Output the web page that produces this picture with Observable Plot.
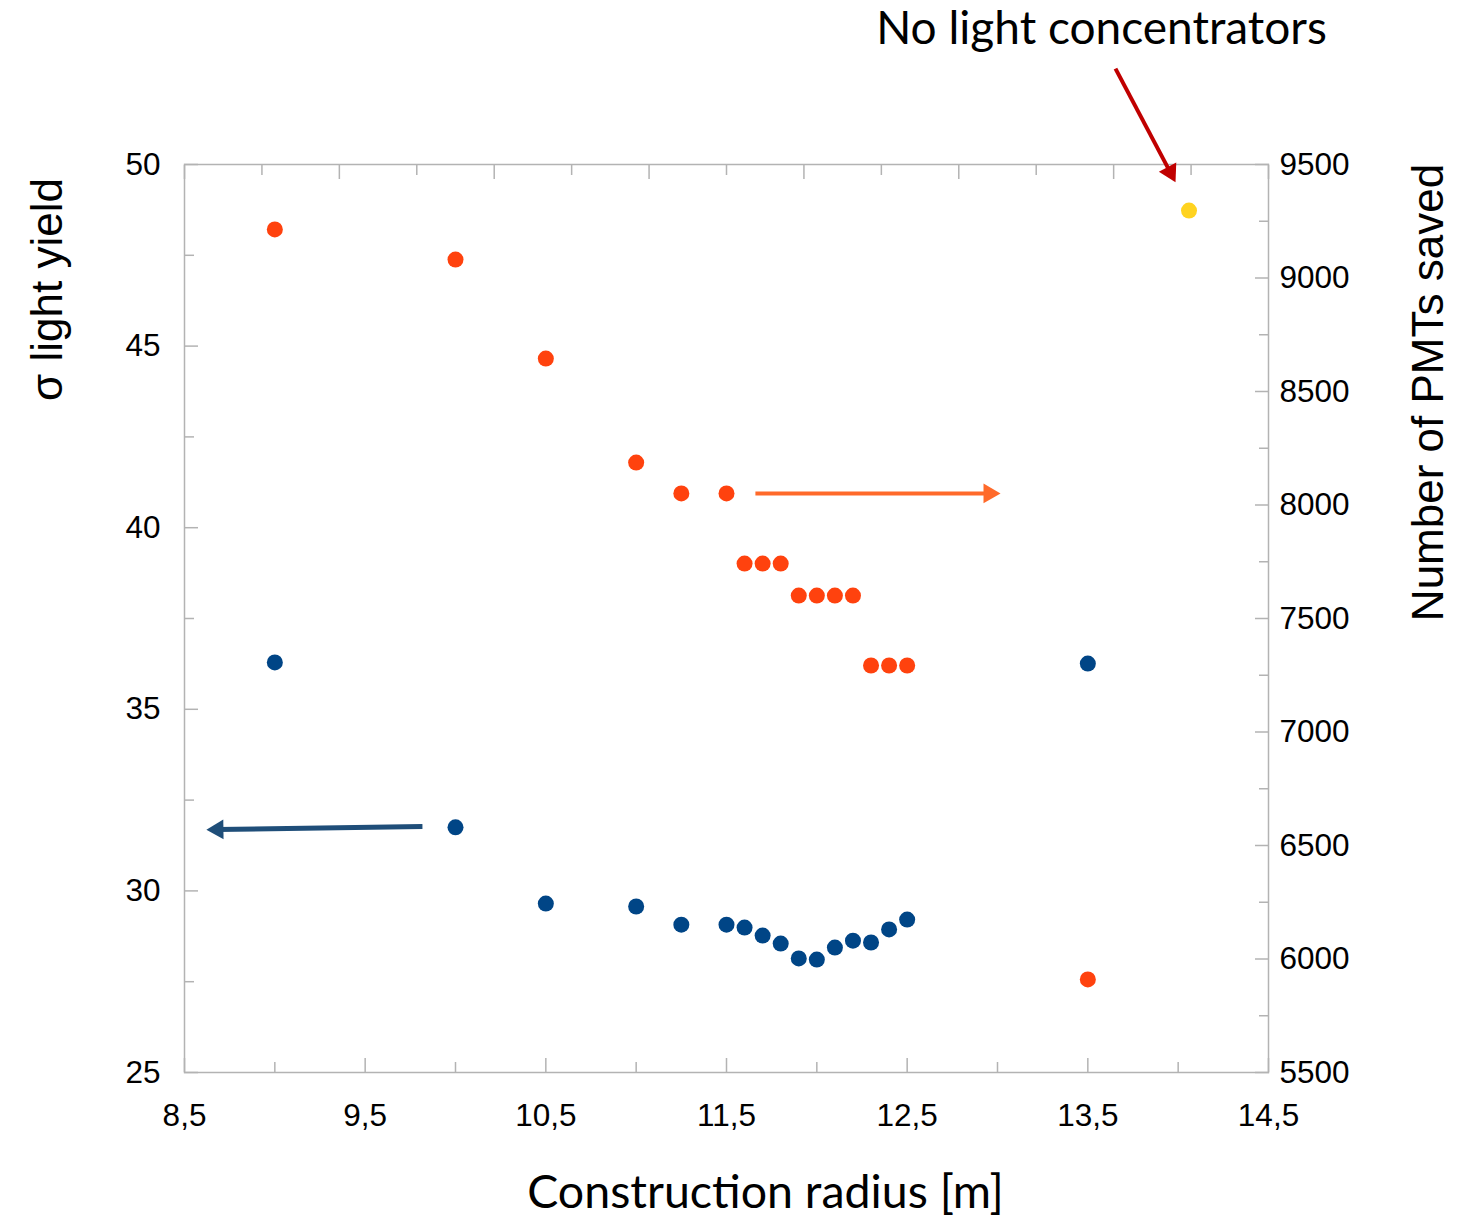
<!DOCTYPE html>
<html>
<head>
<meta charset="utf-8">
<script src="https://cdn.jsdelivr.net/npm/d3@7"></script>
<script src="https://cdn.jsdelivr.net/npm/@observablehq/plot@0.6"></script>
<style>
  html, body { margin: 0; padding: 0; background: #fff; }
</style>
</head>
<body>
<div id="chart"></div>
<script>
// ---- data ----
const radius = [9, 10, 10.5, 11, 11.25, 11.5, 11.6, 11.7, 11.8, 11.9, 12.0, 12.1, 12.2, 12.3, 12.4, 12.5, 13.5];
const sigmaLightYield = [36.29, 31.75, 29.65, 29.57, 29.07, 29.07, 28.99, 28.77, 28.55, 28.14, 28.11, 28.44, 28.63, 28.58, 28.94, 29.21, 36.26];
const pmtsSaved = [9214, 9081, 8645, 8187, 8051, 8051, 7742, 7742, 7742, 7601, 7601, 7601, 7601, 7293, 7293, 7293, 5910];
const noConcRadius = [14.06];
const noConcPmts = [9297];

// tick labels
const xMajorTicks = [8.5, 9.5, 10.5, 11.5, 12.5, 13.5, 14.5];
const xMinorTicks = [9, 10, 11, 12, 13, 14];
const yLeftMajor = [25, 30, 35, 40, 45, 50];
const yLeftMinor = [27.5, 32.5, 37.5, 42.5, 47.5];
const yRightMajor = [5500, 6000, 6500, 7000, 7500, 8000, 8500, 9000, 9500];
const yRightMinor = [5750, 6250, 6750, 7250, 7750, 8250, 8750, 9250];
const topTickCount = 14;

// annotation arrows (data units; right-axis values for the orange one)
const blueArrow = {x1: 9.817, y1: 31.77, x2: 8.684, y2: 31.69, rotate: -90.8};
const orangeArrow = {x1: 11.66, v1: 8051, x2: 12.954, v2: 8051, rotate: 90};
const redArrow = {x1: 13.653, y1: 52.64, x2: 13.956, y2: 49.79, rotate: 152.2};

// ---- mapping right axis to left axis ----
const L0 = 25, L1 = 50, R0 = 5500, R1 = 9500;
const toLeft = v => L0 + (v - R0) * (L1 - L0) / (R1 - R0);
const toRight = l => R0 + (l - L0) * (R1 - R0) / (L1 - L0);

const blueData = radius.map((r, i) => ({x: r, y: sigmaLightYield[i]}));
const orangeData = radius.map((r, i) => ({x: r, y: toLeft(pmtsSaved[i])}));
const yellowData = noConcRadius.map((r, i) => ({x: r, y: toLeft(noConcPmts[i])}));

const topTicks = d3.range(topTickCount + 1).map(k => 8.5 + k * (14.5 - 8.5) / topTickCount);
const topMajor = topTicks.filter((d, k) => k % 2 === 0);
const topMinor = topTicks.filter((d, k) => k % 2 === 1);

const oArrow = {x1: orangeArrow.x1, y1: toLeft(orangeArrow.v1), x2: orangeArrow.x2, y2: toLeft(orangeArrow.v2), rotate: orangeArrow.rotate};

const grey = "#b3b3b3";
const fmtComma = d => String(d).replace(".", ",");

const triR = 7.3;

const chart = Plot.plot({
  width: 1474,
  height: 1218,
  marginLeft: 184,
  marginRight: 206,
  marginTop: 164,
  marginBottom: 146,
  x: {domain: [8.5, 14.5]},
  y: {domain: [25, 50]},
  style: {fontFamily: "Liberation Sans, Arial, sans-serif", fontSize: "31px", color: "#000", background: "#fff", overflow: "visible"},
  marks: [
    Plot.frame({stroke: grey, strokeWidth: 1.5}),
    // inward ticks
    Plot.axisX(xMajorTicks, {anchor: "bottom", tickSize: -14, fill: "none", stroke: grey, strokeWidth: 1.5, label: null}),
    Plot.axisX(xMinorTicks, {anchor: "bottom", tickSize: -10, fill: "none", stroke: grey, strokeWidth: 1.5, label: null}),
    Plot.axisX(topMajor, {anchor: "top", tickSize: -14, fill: "none", stroke: grey, strokeWidth: 1.5, label: null}),
    Plot.axisX(topMinor, {anchor: "top", tickSize: -10, fill: "none", stroke: grey, strokeWidth: 1.5, label: null}),
    Plot.axisY(yLeftMajor, {anchor: "left", tickSize: -14, fill: "none", stroke: grey, strokeWidth: 1.5, label: null}),
    Plot.axisY(yLeftMinor, {anchor: "left", tickSize: -10, fill: "none", stroke: grey, strokeWidth: 1.5, label: null}),
    Plot.axisY(yRightMajor.map(toLeft), {anchor: "right", tickSize: -14, fill: "none", stroke: grey, strokeWidth: 1.5, label: null}),
    Plot.axisY(yRightMinor.map(toLeft), {anchor: "right", tickSize: -10, fill: "none", stroke: grey, strokeWidth: 1.5, label: null}),
    // tick labels
    Plot.axisX(xMajorTicks, {anchor: "bottom", tickSize: 0, tickPadding: 31, tickFormat: fmtComma, label: null, fontSize: 31.5}),
    Plot.axisY(yLeftMajor, {anchor: "left", tickSize: 0, tickPadding: 24, tickFormat: d => String(d), label: null, fontSize: 31.5}),
    Plot.axisY(yRightMajor.map(toLeft), {anchor: "right", tickSize: 0, tickPadding: 11, tickFormat: d => String(Math.round(toRight(d))), label: null, fontSize: 31.5}),
    // data
    Plot.dot(orangeData, {x: "x", y: "y", r: 8, fill: "#ff420e"}),
    Plot.dot(blueData, {x: "x", y: "y", r: 8, fill: "#004586"}),
    Plot.dot(yellowData, {x: "x", y: "y", r: 8, fill: "#ffd320"}),
    // arrows
    Plot.link([oArrow], {x1: "x1", y1: "y1", x2: "x2", y2: "y2", stroke: "#ff6a2a", strokeWidth: 4}),
    Plot.dot([oArrow], {x: "x2", y: "y2", symbol: "triangle", r: triR, fill: "#ff6a2a", rotate: "rotate"}),
    Plot.link([blueArrow], {x1: "x1", y1: "y1", x2: "x2", y2: "y2", stroke: "#1f4e79", strokeWidth: 5}),
    Plot.dot([blueArrow], {x: "x2", y: "y2", symbol: "triangle", r: triR, fill: "#1f4e79", rotate: "rotate"}),
    Plot.link([redArrow], {x1: "x1", y1: "y1", x2: "x2", y2: "y2", stroke: "#c00000", strokeWidth: 4}),
    Plot.dot([redArrow], {x: "x2", y: "y2", symbol: "triangle", r: triR, fill: "#c00000", rotate: "rotate"}),
    // titles
    Plot.text(["No light concentrators"], {frameAnchor: "top", dx: 375, dy: -135, textAnchor: "middle", lineAnchor: "middle", fontFamily: "Lato, Open Sans, sans-serif", fontSize: 46, fill: "#000"}),
    Plot.text(["Construction radius [m]"], {frameAnchor: "bottom", dx: 39, dy: 121, textAnchor: "middle", lineAnchor: "middle", fontFamily: "Lato, Open Sans, sans-serif", fontSize: 46.5, fill: "#000"}),
    Plot.text(["σ light yield"], {frameAnchor: "left", dx: -137, dy: -329, rotate: -90, textAnchor: "middle", lineAnchor: "middle", fontSize: 44, fill: "#000"}),
    Plot.text(["Number of PMTs saved"], {frameAnchor: "right", dx: 160, dy: -226, rotate: -90, textAnchor: "middle", lineAnchor: "middle", fontSize: 44, fill: "#000"})
  ]
});
document.getElementById("chart").appendChild(chart);
</script>
</body>
</html>
